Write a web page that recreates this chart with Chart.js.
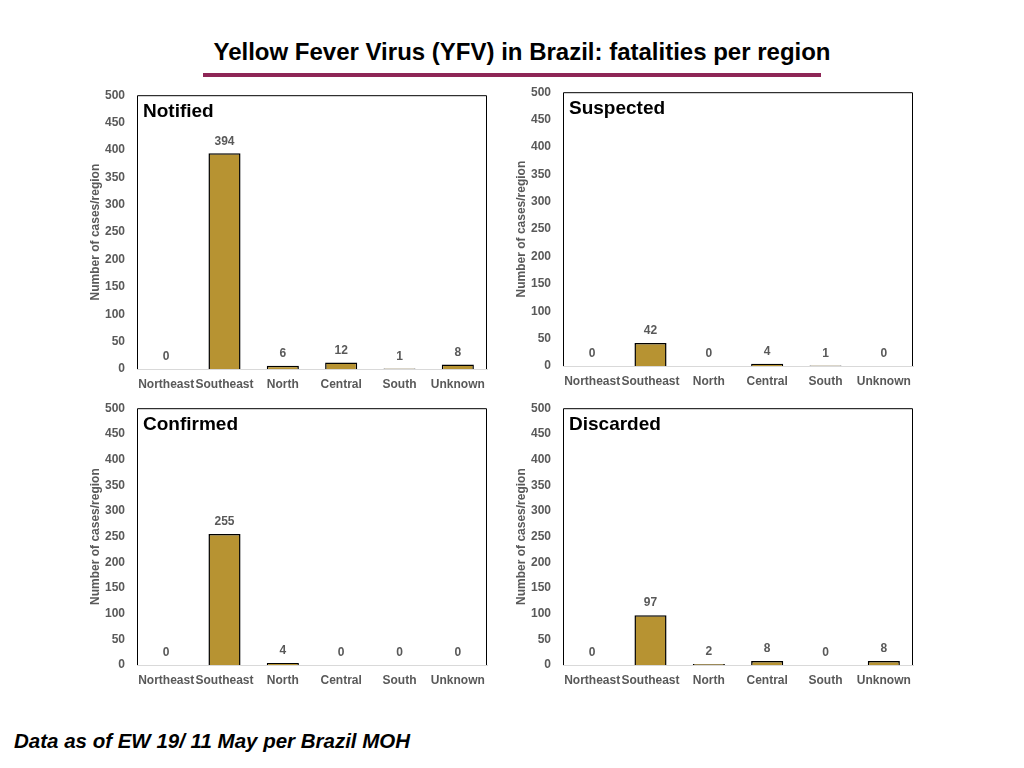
<!DOCTYPE html>
<html>
<head>
<meta charset="utf-8">
<script src="https://cdn.jsdelivr.net/npm/chart.js@4.4.1/dist/chart.umd.min.js"></script>
<style>
  body { margin: 0; width: 1024px; height: 768px; background: #fff; position: relative; overflow: hidden; font-family: "Liberation Sans", Arial, sans-serif; }
  #title { position: absolute; left: 0; width: 1044px; top: 38px; text-align: center; font-size: 24px; font-weight: bold; color: #000; }
  #rule { position: absolute; left: 203px; width: 618px; top: 73px; height: 4px; background: #8E2656; }
  #note { position: absolute; left: 14px; top: 729px; font-size: 20.5px; font-weight: bold; font-style: italic; color: #000; }
  .box { position: absolute; }
</style>
</head>
<body>
<div id="title">Yellow Fever Virus (YFV) in Brazil: fatalities per region</div>
<div id="rule"></div>
<div class="box" style="left:80px;top:76px;width:415px;height:319px"><canvas id="c1"></canvas></div>
<div class="box" style="left:506px;top:73px;width:415px;height:319px"><canvas id="c2"></canvas></div>
<div class="box" style="left:80px;top:389px;width:415px;height:302px"><canvas id="c3"></canvas></div>
<div class="box" style="left:506px;top:389px;width:415px;height:302px"><canvas id="c4"></canvas></div>
<div id="note">Data as of EW 19/ 11 May per Brazil MOH</div>
<script>
// data
const regions = ['Northeast', 'Southeast', 'North', 'Central', 'South', 'Unknown'];
const notified = [0, 394, 6, 12, 1, 8];
const suspected = [0, 42, 0, 4, 1, 0];
const confirmed = [0, 255, 4, 0, 0, 0];
const discarded = [0, 97, 2, 8, 0, 8];
const yMax = 500;
const yStep = 50;

const gold = '#B79332';
const grey = '#595959';
const fontFam = '"Liberation Sans", Arial, sans-serif';

// frame around plot area + panel name + value labels
const panelPlugin = {
  id: 'panel',
  afterDatasetsDraw(chart, args, opts) {
    const ctx = chart.ctx;
    const a = chart.chartArea;
    ctx.save();
    ctx.strokeStyle = '#000';
    ctx.lineWidth = 1;
    ctx.beginPath();
    ctx.moveTo(a.left + 0.5, a.bottom);
    ctx.lineTo(a.left + 0.5, a.top + 0.5);
    ctx.lineTo(a.right - 0.5, a.top + 0.5);
    ctx.lineTo(a.right - 0.5, a.bottom);
    ctx.stroke();

    ctx.fillStyle = '#000';
    ctx.font = 'bold 19px ' + fontFam;
    ctx.textBaseline = 'middle';
    ctx.textAlign = 'left';
    ctx.fillText(opts.name, a.left + 6, a.top + 17);

    ctx.fillStyle = grey;
    ctx.font = 'bold 12px ' + fontFam;
    ctx.textAlign = 'center';
    const meta = chart.getDatasetMeta(0);
    meta.data.forEach((bar, i) => {
      const v = chart.data.datasets[0].data[i];
      ctx.fillText(String(v), bar.x, bar.y - 12);
    });
    ctx.restore();
  }
};

function makeChart(id, name, values) {
  new Chart(document.getElementById(id), {
    type: 'bar',
    data: {
      labels: regions,
      datasets: [{
        data: values,
        backgroundColor: gold,
        borderColor: '#000',
        borderWidth: 1.5,
        borderSkipped: 'bottom',
        categoryPercentage: 1,
        barPercentage: 0.55
      }]
    },
    options: {
      responsive: true,
      maintainAspectRatio: false,
      animation: false,
      layout: { padding: { top: 10, right: 8, left: 0, bottom: 0 } },
      plugins: {
        legend: { display: false },
        tooltip: { enabled: false },
        panel: { name: name }
      },
      scales: {
        x: {
          grid: { display: false, drawTicks: false },
          border: { display: true, color: '#D9D9D9', width: 1 },
          ticks: {
            color: grey, padding: 8, maxRotation: 0, autoSkip: false,
            font: { family: fontFam, size: 12, weight: 'bold' }
          },
          afterFit(s) { s.height = 26; }
        },
        y: {
          min: 0, max: yMax,
          grid: { display: false, drawTicks: false },
          border: { display: false },
          ticks: {
            stepSize: yStep, color: grey, padding: 12,
            font: { family: fontFam, size: 12, weight: 'bold' }
          },
          title: {
            display: true, text: 'Number of cases/region', color: grey,
            padding: { top: 8, bottom: 0 },
            font: { family: fontFam, size: 12, weight: 'bold' }
          },
          afterFit(s) { s.width = 57; }
        }
      }
    },
    plugins: [panelPlugin]
  });
}

makeChart('c1', 'Notified', notified);
makeChart('c2', 'Suspected', suspected);
makeChart('c3', 'Confirmed', confirmed);
makeChart('c4', 'Discarded', discarded);
</script>
</body>
</html>
